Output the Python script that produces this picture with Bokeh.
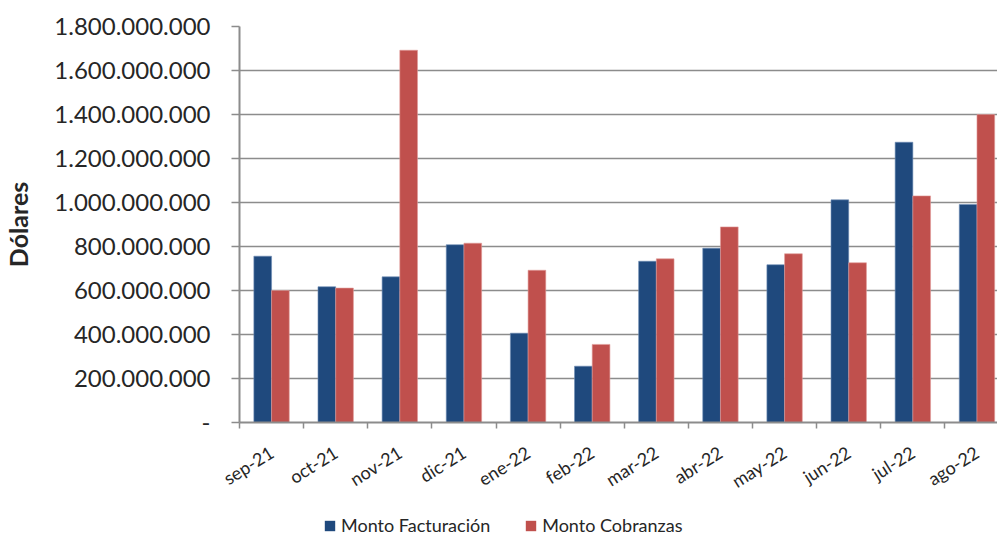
from bokeh.plotting import figure
from bokeh.layouts import column
from bokeh.models import (ColumnDataSource, Range1d, FixedTicker, Legend, LegendItem)
from bokeh.transform import dodge
from bokeh.embed import file_html
from bokeh.resources import INLINE

months = ["sep-21", "oct-21", "nov-21", "dic-21", "ene-22", "feb-22",
          "mar-22", "abr-22", "may-22", "jun-22", "jul-22", "ago-22"]
facturacion = [756e6, 617e6, 662e6, 808e6, 406e6, 256e6,
               733e6, 792e6, 717e6, 1012e6, 1274e6, 991e6]
cobranzas = [600e6, 611e6, 1692e6, 815e6, 692e6, 355e6,
             744e6, 889e6, 767e6, 726e6, 1030e6, 1400e6]
y_ticks = [0, 200e6, 400e6, 600e6, 800e6, 1000e6, 1200e6, 1400e6, 1600e6, 1800e6]
series_names = ["Monto Facturación", "Monto Cobranzas"]

BLUE = "#1F497D"
RED = "#C0504D"
GRID = "#8C8C8C"
TXT = "#262626"
FONT = "Lato"

centers = [i + 0.5 for i in range(len(months))]
src = ColumnDataSource(dict(x=centers, fact=facturacion, cobr=cobranzas))

p = figure(width=997, height=508, output_backend="svg", toolbar_location=None,
           x_range=Range1d(0, 11.82), y_range=Range1d(0, 1.8e9),
           min_border_left=236, min_border_right=0, min_border_top=26,
           min_border_bottom=86)
p.outline_line_color = None
p.background_fill_color = "white"
p.border_fill_color = "white"

bw = 0.276
r1 = p.vbar(x=dodge("x", -bw / 2, range=p.x_range), top="fact", width=bw, source=src,
            fill_color=BLUE, line_color="#6F8DB5", line_width=0.6)
r2 = p.vbar(x=dodge("x", bw / 2, range=p.x_range), top="cobr", width=bw, source=src,
            fill_color=RED, line_color="#E09A98", line_width=0.6)

# x axis
p.xaxis.ticker = FixedTicker(ticks=centers, minor_ticks=list(range(len(months))))
p.xaxis.major_label_overrides = {c: m for c, m in zip(centers, months)}
p.xaxis.major_tick_line_color = None
p.xaxis.major_tick_out = 0
p.xaxis.major_tick_in = 0
p.xaxis.minor_tick_out = 6
p.xaxis.minor_tick_in = 0
p.xaxis.minor_tick_line_color = GRID
p.xaxis.minor_tick_line_width = 1.5
p.xaxis.axis_line_color = GRID
p.xaxis.axis_line_width = 2
p.xaxis.major_label_orientation = 0.56
p.xaxis.major_label_text_font = FONT
p.xaxis.major_label_text_font_size = "18px"
p.xaxis.major_label_text_color = TXT
p.xaxis.major_label_standoff = 22

# y axis
p.yaxis.ticker = FixedTicker(ticks=y_ticks)
p.yaxis.major_label_overrides = {
    t: ("-" if t == 0 else f"{int(t):,}".replace(",", ".")) for t in y_ticks}
p.yaxis.axis_label = "Dólares"
p.yaxis.axis_label_text_font = FONT
p.yaxis.axis_label_text_font_style = "bold"
p.yaxis.axis_label_text_font_size = "25px"
p.yaxis.axis_label_text_color = TXT
p.yaxis.axis_label_standoff = 18
p.yaxis.major_label_text_font = FONT
p.yaxis.major_label_text_font_size = "24px"
p.yaxis.major_label_text_color = TXT
p.yaxis.major_label_standoff = 21
p.yaxis.major_tick_out = 8
p.yaxis.major_tick_in = 0
p.yaxis.minor_tick_line_color = None
p.yaxis.major_tick_line_color = GRID
p.yaxis.major_tick_line_width = 1.5
p.yaxis.axis_line_color = GRID
p.yaxis.axis_line_width = 2

p.xgrid.grid_line_color = None
p.ygrid.ticker = FixedTicker(ticks=y_ticks)
p.ygrid.grid_line_color = GRID
p.ygrid.grid_line_width = 1.6

# legend in its own strip below the chart (its proxy bars are hidden)
lg = figure(width=997, height=28, output_backend="svg", toolbar_location=None,
            x_range=Range1d(0, 11.82), y_range=Range1d(-1e13, -0.9e13),
            x_axis_type=None, y_axis_type=None,
            min_border_left=0, min_border_right=0, min_border_top=0, min_border_bottom=0)
lg.outline_line_color = None
lg.grid.visible = False
l1 = lg.vbar(x="x", top="fact", width=bw, source=src, fill_color=BLUE, line_color=None)
l2 = lg.vbar(x="x", top="cobr", width=bw, source=src, fill_color=RED, line_color=None)
l1.visible = False
l2.visible = False

legend = Legend(items=[LegendItem(label=series_names[0], renderers=[l1]),
                       LegendItem(label=series_names[1], renderers=[l2])],
                orientation="horizontal", location=(84, 0))
legend.padding = 0
legend.margin = 0
legend.spacing = 34
legend.glyph_width = 13
legend.glyph_height = 13
legend.label_standoff = 5
legend.label_text_font = FONT
legend.label_text_font_size = "18px"
legend.label_text_color = TXT
legend.border_line_color = None
legend.background_fill_alpha = 0
legend.inactive_fill_alpha = 0
lg.add_layout(legend, "center")

layout = column(p, lg, spacing=0)
open("out.html", "w").write(file_html(layout, INLINE))
